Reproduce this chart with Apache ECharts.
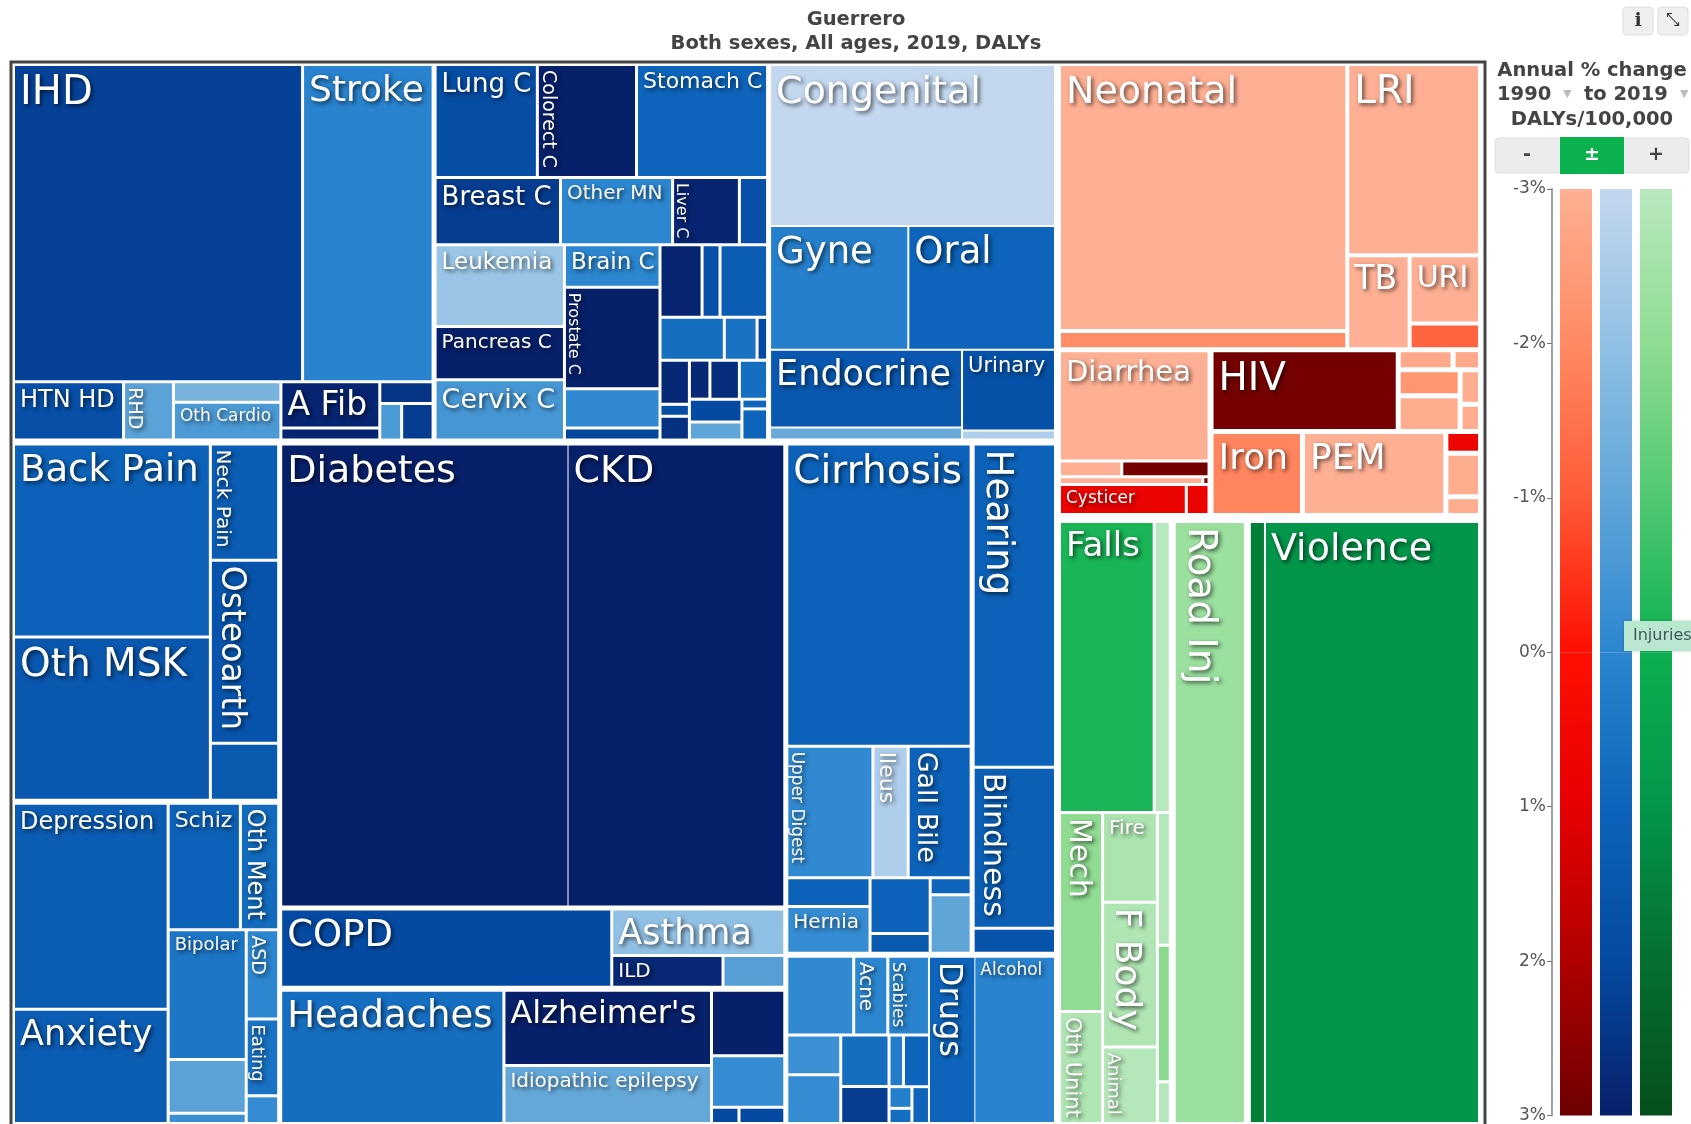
<!DOCTYPE html>
<html>
<head>
<meta charset="utf-8">
<style>html,body{margin:0;padding:0;background:#fff}#chart{width:1691px;height:1124px}</style>
<script src="https://cdn.jsdelivr.net/npm/echarts@6/dist/echarts.min.js"></script>
</head>
<body>
<div id="chart"></div>
<script>
// DALYs/100,000 and annual % change
const cardioNames = ['IHD', 'Stroke', 'HTN HD', 'RHD', '', 'Oth Cardio', 'A Fib', '', '', '', '']
const cardioValues = [1832, 827, 128, 58, 44, 81, 91, 24, 23, 16, 23]
const cardioChange = [2.2, 0.1, 1.8, -0.9, -1.5, -0.6, 2.9, 2.9, 2.5, -0.6, 2.3]

const neoNames = ['Lung C', 'Colorect C', 'Stomach C', 'Breast C', 'Other MN', 'Liver C', '', 'Leukemia', 'Pancreas C', 'Cervix C', 'Brain C', 'Prostate C', '', '', '', '', '', '', '', '', '', '', '', '', '', '', '', '', '', '']
const neoValues = [231, 224, 296, 169, 151, 90, 38, 211, 138, 156, 81, 194, 75, 23, 61, 26, 69, 55, 28, 9, 26, 7, 14, 16, 23, 22, 24, 19, 5, 16]
const neoChange = [1.9, 3, 1, 2.3, 0, 2.9, 1.8, -2.2, 3, -0.5, 0, 3, -0.1, 2.1, 2.9, 1.8, 1.3, 0.7, 0.6, 2, 2.8, 1.9, 2.6, 2.8, 2.7, 0.7, 2, -1, 0.9, 1]

const otherNames = ['Congenital', 'Gyne', 'Oral', 'Endocrine', '', 'Urinary', '']
const otherValues = [923, 345, 366, 300, 47, 151, 17]
const otherChange = [-3, 0.2, 1, 1.5, -1.2, 1.7, -2.6]

const mskNames = ['Back Pain', 'Oth MSK', 'Neck Pain', 'Osteoarth', '']
const mskValues = [760, 643, 159, 250, 78]
const mskChange = [1.1, 1.5, 1.3, 1.6, 1.4]

const mentalNames = ['Depression', 'Anxiety', 'Schiz', 'Oth Ment', 'Bipolar', '', '', 'ASD', 'Eating', '']
const mentalValues = [638, 354, 183, 97, 203, 84, 16, 58, 50, 18]
const mentalChange = [1.3, 1.3, 1.1, 0.8, 0.5, -0.9, -0.3, 0, 0.6, -0.2]

const kidneyNames = ['Diabetes', 'CKD']
const kidneyValues = [2646, 1994]
const kidneyChange = [3, 3]

const respNames = ['COPD', 'Asthma', 'ILD', '']
const respValues = [530, 165, 72, 40]
const respChange = [2, -2, 2.8, -0.8]

const neuroNames = ['Headaches', "Alzheimer's", 'Idiopathic epilepsy', '', '', '', '']
const neuroValues = [600, 315, 243, 97, 76, 9, 15]
const neuroChange = [0.7, 3, -1.1, 3, -0.2, 2, 2]

const digestNames = ['Cirrhosis', 'Upper Digest', 'Ileus', 'Gall Bile', '', 'Hernia', '', '', '', '']
const digestValues = [1115, 227, 93, 166, 48, 78, 67, 24, 14, 48]
const digestChange = [1.1, -0.1, -2.6, 1.1, 1.1, -0.2, 1.1, 1.4, 1, -1]

const senseNames = ['Hearing', 'Blindness', '']
const senseValues = [540, 269, 42]
const senseChange = [1.1, 1.2, 1.6]

const skinNames = ['', 'Acne', 'Scabies', '', '', '', '', '', '', '', '', '']
const skinValues = [106, 54, 66, 43, 53, 50, 36, 15, 27, 10, 7, 13]
const skinChange = [-0.1, 0, 0.1, -0.3, -0.2, 0.7, 2.3, 0.3, 1, 0.2, 0.7, 1]

const substanceNames = ['Drugs', 'Alcohol']
const substanceValues = [155, 272]
const substanceChange = [1, 0.1]

const neonatalNames = ['Neonatal', '', 'LRI', 'TB', 'URI', '']
const neonatalValues = [1540, 104, 508, 117, 96, 36]
const neonatalChange = [-3, -2.1, -3, -3, -3, -1.2]

const entericNames = ['Diarrhea', '', '', '', '', 'Cysticer', '']
const entericValues = [338, 20, 28, 23, 1, 78, 14]
const entericChange = [-3, -3, 2.9, -3, 2.5, 0.8, 0.8]

const hivNames = ['HIV', '', '', '', '', '', '', 'Iron', 'PEM', '', '', '']
const hivValues = [305, 22, 11, 32, 44, 14, 11, 153, 240, 15, 30, 13]
const hivChange = [2.9, -2.8, -2.8, -2.3, -2.9, -2.9, -2.9, -1.9, -3, 0.7, -2.9, -2.9]

const injuryNames = ['Falls', '', 'Mech', 'Oth Unint', 'Fire', 'F Body', 'Animal', '', '', '', 'Road Inj', '', 'Violence']
const injuryValues = [565, 96, 176, 99, 101, 163, 86, 35, 36, 11, 895, 184, 2607]
const injuryChange = [-0.2, -3, -2, -2.8, -2.7, -2.8, -2.9, -2.9, -1.9, -2.9, -2.3, 1.6, 1]

// legend scale, same range for the three colour bars
const scaleFamilies = ['Communicable', 'Non-communicable', 'Injuries']
const scaleLow = [-3, -3, -3]
const scaleHigh = [3, 3, 3]

// colour at -3,-2,-1,0,1,2,3 %
const ramps = {
    red: ['#ffb094', '#ff8a62', '#ff5a38', '#ff0f00', '#e60000', '#b00000', '#6e0000'],
    blue: ['#c3d7ef', '#90c0e4', '#5fa5d8', '#2c86d0', '#0d64ba', '#054aa2', '#07206a'],
    green: ['#b8e8bd', '#8fdc92', '#50c870', '#0bb04f', '#03964a', '#056f30', '#054f1c'],
}

const rampColor = (ramp, change) => {
    const t = Math.min(6, Math.max(0, change + 3))
    const i = Math.min(5, Math.floor(t))
    const a = echarts.color.parse(ramp[i])
    const b = echarts.color.parse(ramp[i + 1])
    const mix = a.slice(0, 3).map((v, k) => Math.round(v + (b[k] - v) * (t - i)))
    return `rgb(${mix.join(',')})`
}

// label size by cause, rotated ones read top to bottom
const labelSize = {
    'IHD': 40, 'Stroke': 36, 'HTN HD': 24, 'RHD': 19, 'Oth Cardio': 17, 'A Fib': 33,
    'Lung C': 26, 'Colorect C': 19, 'Stomach C': 22, 'Breast C': 26, 'Other MN': 20, 'Liver C': 16,
    'Leukemia': 23, 'Pancreas C': 20, 'Cervix C': 27, 'Brain C': 23, 'Prostate C': 16,
    'Congenital': 38, 'Gyne': 37, 'Oral': 37, 'Endocrine': 35, 'Urinary': 21,
    'Back Pain': 37, 'Oth MSK': 39, 'Neck Pain': 20, 'Osteoarth': 33,
    'Depression': 24, 'Anxiety': 35, 'Schiz': 22, 'Oth Ment': 24, 'Bipolar': 18, 'ASD': 19, 'Eating': 18,
    'Diabetes': 38, 'CKD': 38, 'COPD': 37, 'Asthma': 35, 'ILD': 20,
    'Headaches': 37, "Alzheimer's": 32, 'Idiopathic epilepsy': 20,
    'Cirrhosis': 39, 'Upper Digest': 17, 'Ileus': 22, 'Gall Bile': 27, 'Hernia': 20,
    'Hearing': 37, 'Blindness': 30, 'Acne': 20, 'Scabies': 17, 'Drugs': 32, 'Alcohol': 17,
    'Neonatal': 38, 'LRI': 39, 'TB': 33, 'URI': 30, 'Diarrhea': 29, 'Cysticer': 17,
    'HIV': 39, 'Iron': 36, 'PEM': 36,
    'Falls': 34, 'Road Inj': 39, 'Violence': 38, 'Mech': 30, 'Fire': 20, 'F Body': 36, 'Oth Unint': 21, 'Animal': 18,
}
const rotated = ['RHD', 'Colorect C', 'Liver C', 'Prostate C', 'Neck Pain', 'Osteoarth', 'Oth Ment', 'ASD', 'Eating',
    'Upper Digest', 'Ileus', 'Gall Bile', 'Hearing', 'Blindness', 'Acne', 'Scabies', 'Drugs',
    'Road Inj', 'Mech', 'F Body', 'Oth Unint', 'Animal']

const BREAK = '|'
const SPACER = 1e-7

const spacer = () => ({name: '', value: SPACER, itemStyle: {color: '#fff', borderWidth: 0, gapWidth: 0}})

const leafLabel = (name) => {
    const size = labelSize[name] || 16
    const base = {
        show: !!name,
        formatter: '{b}',
        color: '#fff',
        fontFamily: '"DejaVu Sans"',
        fontSize: size,
        padding: 0,
        overflow: 'none',
        align: 'left',
        verticalAlign: 'top',
        textShadowColor: 'rgba(0,0,0,0.65)',
        textShadowBlur: 4,
        textShadowOffsetX: 2,
        textShadowOffsetY: 2,
    }
    if (rotated.includes(name)) {
        return {...base, rotate: -90, position: [size * 1.2 - 4, 4]}
    }
    return {...base, position: [5, size * 0.15 + 2]}
}

// shape: nested index lists, BREAK starts a new row
const build = (shape, names, values, change, ramp, gap) => {
    const children = shape.map((s) => {
        if (s === BREAK) return spacer()
        if (Array.isArray(s)) return build(s, names, values, change, ramp, gap)
        return {
            name: names[s],
            value: values[s],
            itemStyle: {color: rampColor(ramp, change[s]), borderWidth: 0, gapWidth: 0},
            label: leafLabel(names[s]),
        }
    })
    return {name: '', children, itemStyle: {color: '#fff', borderWidth: 0, gapWidth: gap}}
}

const wrap = (gap, ...items) => ({
    name: '',
    children: items.map((it) => (it === BREAK ? spacer() : it)),
    itemStyle: {color: '#fff', borderWidth: 0, gapWidth: gap},
})

const cardio = build([[0, BREAK, 1], [2, BREAK, 3, BREAK, [4, 5], BREAK, [6, 7], BREAK, [8, BREAK, [9, BREAK, 10]]]],
    cardioNames, cardioValues, cardioChange, ramps.blue, 3)
const neo = build([[0, BREAK, 1, BREAK, 2], BREAK, [[3, BREAK, 4, BREAK, 5, BREAK, 6], [[7, BREAK, [8, 9]], BREAK, [10, BREAK, 11, BREAK, [12, 13]], BREAK,
    [[14, BREAK, [15, 16]], BREAK, [17, BREAK, 18, BREAK, 19], BREAK, [[20, BREAK, 21, BREAK, 22], BREAK, [[23, BREAK, 24, BREAK, 25], BREAK, [[26, 27], BREAK, [28, BREAK, 29]]]]]]]],
    neoNames, neoValues, neoChange, ramps.blue, 3)
const other = build([0, BREAK, [[1, BREAK, 2], [[3, 4], BREAK, [5, 6]]]],
    otherNames, otherValues, otherChange, ramps.blue, 2)
const msk = build([[0, BREAK, 1], [2, BREAK, 3, BREAK, 4]], mskNames, mskValues, mskChange, ramps.blue, 3)
const mental = build([[0, BREAK, 1], [[2, 3], BREAK, [[4, BREAK, [5, 6]], [7, BREAK, 8, BREAK, 9]]]],
    mentalNames, mentalValues, mentalChange, ramps.blue, 3)
const kidney = build([0, BREAK, 1], kidneyNames, kidneyValues, kidneyChange, ramps.blue, 1)
const resp = build([0, BREAK, [1, [2, BREAK, 3]]], respNames, respValues, respChange, ramps.blue, 3)
const neuro = build([0, BREAK, [1, 2], BREAK, [3, BREAK, [4, [5, BREAK, 6]]]], neuroNames, neuroValues, neuroChange, ramps.blue, 3)
const digest = build([0, BREAK, [1, BREAK, [2, 3]], BREAK, [[4, 5], BREAK, [6, BREAK, 7], BREAK, [8, BREAK, 9]]],
    digestNames, digestValues, digestChange, ramps.blue, 3)
const sense = build([0, BREAK, 1, BREAK, 2], senseNames, senseValues, senseChange, ramps.blue, 3)
const skin = build([[0, BREAK, [1, 2]], BREAK, [[3, BREAK, 4], BREAK, [5, BREAK, 6], BREAK, [[7, 8], BREAK, [[9, BREAK, 10], BREAK, 11]]]],
    skinNames, skinValues, skinChange, ramps.blue, 3)
const substance = build([0, 1], substanceNames, substanceValues, substanceChange, ramps.blue, 1)

const blue = wrap(7,
    wrap(5, cardio, BREAK, neo, BREAK, other),
    BREAK,
    wrap(5,
        wrap(6, msk, BREAK, mental),
        BREAK,
        wrap(5, kidney, BREAK, wrap(6, resp, neuro)),
        BREAK,
        wrap(6, wrap(5, digest, sense), BREAK, wrap(2, skin, BREAK, substance))))

const red = wrap(5,
    build([[0, 1], BREAK, [2, BREAK, [3, BREAK, [4, BREAK, 5]]]], neonatalNames, neonatalValues, neonatalChange, ramps.red, 4),
    BREAK,
    wrap(6,
        build([0, BREAK, [[1, BREAK, 2], [3, BREAK, 4], [5, BREAK, 6]]], entericNames, entericValues, entericChange, ramps.red, 3),
        BREAK,
        build([[0, BREAK, [[1, BREAK, 2], [[3, 4], BREAK, [5, BREAK, 6]]]], [7, BREAK, 8, BREAK, [9, BREAK, 10, BREAK, 11]]], hivNames, hivValues, hivChange, ramps.red, 5)))

const green = wrap(7,
    build([[0, 1], BREAK, [[2, BREAK, 3], [4, BREAK, 5, BREAK, 6], [7, BREAK, 8, BREAK, 9]]], injuryNames, injuryValues, injuryChange, ramps.green, 3),
    build([10], injuryNames, injuryValues, injuryChange, ramps.green, 0),
    build([11, 12], injuryNames, injuryValues, injuryChange, ramps.green, 2))

const scaleGradient = (stops) => new echarts.graphic.LinearGradient(0, 0, 0, 1,
    stops.map((c, i) => ({offset: i / (stops.length - 1), color: c})))
const famRamps = [ramps.red, ramps.blue, ramps.green]

const chart = echarts.init(document.getElementById('chart'), null, {renderer: 'canvas'})
chart.setOption({
    animation: false,
    backgroundColor: '#fff',
    title: {
        text: 'Guerrero\nBoth sexes, All ages, 2019, DALYs',
        left: 851,
        top: 3,
        textAlign: 'center',
        textStyle: {fontFamily: '"DejaVu Sans"', fontSize: 19.5, fontWeight: 'bold', color: '#444', lineHeight: 24},
    },
    grid: {left: 1556, top: 189, width: 120, height: 928},
    xAxis: {type: 'category', data: scaleFamilies, show: false},
    yAxis: {
        type: 'value',
        min: -3,
        max: 3,
        interval: 1,
        inverse: true,
        offset: 4,
        splitLine: {show: false},
        axisLine: {show: true, lineStyle: {color: '#9aa3ad', width: 2}},
        axisTick: {show: true, length: 5, lineStyle: {color: '#777'}},
        axisLabel: {formatter: '{value}%', color: '#555', fontFamily: '"DejaVu Sans"', fontSize: 17, margin: 6},
    },
    graphic: [
        {type: 'rect', z: 1, shape: {x: 11, y: 62, width: 1474, height: 1080}, style: {fill: 'none', stroke: '#444', lineWidth: 3}},
        {type: 'text', x: 1592, y: 71, style: {text: 'Annual % change', fill: '#444', font: 'bold 19.5px "DejaVu Sans"', align: 'center', verticalAlign: 'middle'}},
        {type: 'text', x: 1497, y: 95, style: {text: '1990', fill: '#444', font: 'bold 19.5px "DejaVu Sans"', verticalAlign: 'middle'}},
        {type: 'text', x: 1563, y: 94, style: {text: '▼', fill: '#bbb', font: '11px "DejaVu Sans"', verticalAlign: 'middle'}},
        {type: 'text', x: 1584, y: 95, style: {text: 'to 2019', fill: '#444', font: 'bold 19.5px "DejaVu Sans"', verticalAlign: 'middle'}},
        {type: 'text', x: 1680, y: 94, style: {text: '▼', fill: '#bbb', font: '11px "DejaVu Sans"', verticalAlign: 'middle'}},
        {type: 'text', x: 1592, y: 120, style: {text: 'DALYs/100,000', fill: '#444', font: 'bold 19.5px "DejaVu Sans"', align: 'center', verticalAlign: 'middle'}},
        {type: 'rect', shape: {x: 1495, y: 138, width: 194, height: 35, r: 4}, style: {fill: '#ececec', stroke: '#ddd'}},
        {type: 'rect', shape: {x: 1560, y: 137, width: 64, height: 37}, style: {fill: '#0bb04f'}},
        {type: 'text', x: 1527, y: 155, style: {text: '-', fill: '#444', font: 'bold 19px "DejaVu Sans"', align: 'center', verticalAlign: 'middle'}},
        {type: 'text', x: 1592, y: 155, style: {text: '±', fill: '#fff', font: 'bold 19px "DejaVu Sans"', align: 'center', verticalAlign: 'middle'}},
        {type: 'text', x: 1656, y: 155, style: {text: '+', fill: '#444', font: 'bold 19px "DejaVu Sans"', align: 'center', verticalAlign: 'middle'}},
        {type: 'rect', shape: {x: 1623, y: 7, width: 30, height: 28, r: 4}, style: {fill: '#efefef', stroke: '#ddd'}},
        {type: 'rect', shape: {x: 1658, y: 7, width: 30, height: 28, r: 4}, style: {fill: '#efefef', stroke: '#ddd'}},
        {type: 'text', x: 1638, y: 21, style: {text: 'i', fill: '#333', font: 'bold 19px "DejaVu Serif"', align: 'center', verticalAlign: 'middle'}},
        {type: 'text', x: 1673, y: 21, style: {text: '⤡', fill: '#333', font: '17px "DejaVu Sans"', align: 'center', verticalAlign: 'middle'}},
        {type: 'rect', z: 20, shape: {x: 1624, y: 621, width: 70, height: 30}, style: {fill: '#b9e7cf', shadowBlur: 3, shadowColor: 'rgba(0,0,0,0.2)'}},
        {type: 'text', z: 21, x: 1633, y: 636, style: {text: 'Injuries', fill: '#3f5a58', font: '16px "DejaVu Sans"', verticalAlign: 'middle'}},
    ],
    series: [
        {
            type: 'treemap',
            left: 15,
            top: 66,
            width: 1463,
            height: 1056,
            sort: false,
            squareRatio: 200,
            visibleMin: 0,
            roam: false,
            nodeClick: false,
            silent: true,
            breadcrumb: {show: false},
            itemStyle: {borderWidth: 0, gapWidth: 0},
            levels: [{itemStyle: {gapWidth: 7, borderWidth: 0}}],
            data: [blue, spacer(), wrap(10, red, BREAK, green)],
        },
        {
            type: 'bar',
            stack: 'scale',
            barWidth: 32,
            silent: true,
            data: scaleLow.map((v, i) => ({value: v, itemStyle: {color: scaleGradient(famRamps[i].slice(0, 4))}})),
        },
        {
            type: 'bar',
            stack: 'scale',
            barWidth: 32,
            silent: true,
            data: scaleHigh.map((v, i) => ({value: v, itemStyle: {color: scaleGradient(famRamps[i].slice(3))}})),
        },
    ],
})
</script>
</body>
</html>
